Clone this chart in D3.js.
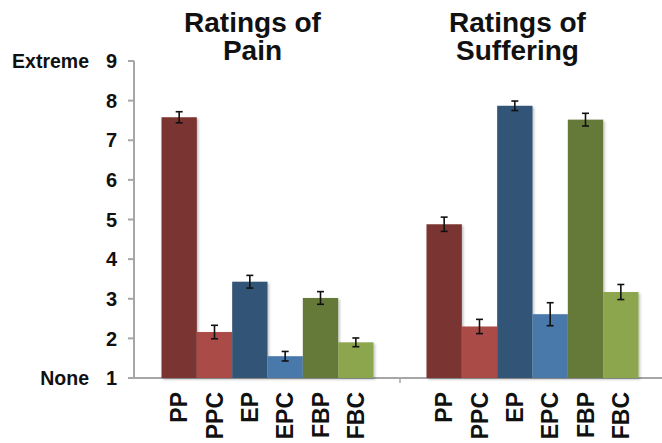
<!DOCTYPE html>
<html>
<head>
<meta charset="utf-8">
<script src="https://cdn.jsdelivr.net/npm/d3@7"></script>
<style>
  body { margin: 0; background: #fff; }
  text { font-family: "Liberation Sans", Arial, sans-serif; font-weight: bold; fill: #111; }
</style>
</head>
<body>
<div id="chart"></div>
<script>
// data
const groups = ["Ratings of Pain", "Ratings of Suffering"];
const titleLines = [["Ratings of", "Pain"], ["Ratings of", "Suffering"]];
const conditions = ["PP", "PPC", "EP", "EPC", "FBP", "FBC"];
const painMeans = [7.58, 2.16, 3.43, 1.55, 3.02, 1.90];
const painErr = [0.14, 0.17, 0.16, 0.12, 0.16, 0.11];
const sufferingMeans = [4.88, 2.30, 7.87, 2.61, 7.52, 3.17];
const sufferingErr = [0.18, 0.18, 0.12, 0.29, 0.16, 0.19];
const yTicks = [1, 2, 3, 4, 5, 6, 7, 8, 9];
const yEndLabels = [{v: 9, t: "Extreme"}, {v: 1, t: "None"}];

const colors = ["#7a3430", "#aa4b47", "#335577", "#4978aa", "#657a38", "#8ca64e"];

const W = 662, H = 443;
const svg = d3.select("#chart").append("svg")
  .attr("width", W).attr("height", H);

// soft shadow like the original bars
const defs = svg.append("defs");
const f = defs.append("filter").attr("id", "shadow")
  .attr("x", "-10%").attr("y", "-10%").attr("width", "130%").attr("height", "130%");
f.append("feDropShadow").attr("dx", 1.5).attr("dy", 1.5)
  .attr("stdDeviation", 1.2).attr("flood-color", "#000").attr("flood-opacity", 0.25);

const y = d3.scaleLinear().domain([1, 9]).range([378, 61]);
const x0 = d3.scaleBand().domain(groups).range([135, 665])
  .paddingInner(0.2).paddingOuter(0.1);
const x1 = d3.scaleBand().domain(conditions).range([0, x0.bandwidth()]);

const rows = [];
groups.forEach(function(g, gi) {
  const means = gi === 0 ? painMeans : sufferingMeans;
  const errs = gi === 0 ? painErr : sufferingErr;
  conditions.forEach(function(c, ci) {
    rows.push({group: g, cond: c, mean: means[ci], err: errs[ci], color: colors[ci]});
  });
});

// axes lines
const axisColor = "#a6a6a6";
svg.append("line")
  .attr("x1", 134).attr("x2", 134).attr("y1", y(9)).attr("y2", y(1))
  .attr("stroke", axisColor).attr("stroke-width", 2);
svg.append("line")
  .attr("x1", 128).attr("x2", W).attr("y1", y(1)).attr("y2", y(1))
  .attr("stroke", axisColor).attr("stroke-width", 2);

// y ticks
svg.selectAll(".ytick").data(yTicks).join("line")
  .attr("x1", 128).attr("x2", 134)
  .attr("y1", d => y(d)).attr("y2", d => y(d))
  .attr("stroke", axisColor).attr("stroke-width", 2);
svg.selectAll(".ylab").data(yTicks).join("text")
  .attr("x", 117).attr("y", d => y(d))
  .attr("dy", "0.36em")
  .attr("text-anchor", "end")
  .style("font-size", "20px")
  .text(d => d);
svg.selectAll(".yend").data(yEndLabels).join("text")
  .attr("x", 89).attr("y", d => y(d.v))
  .attr("dy", "0.36em")
  .attr("text-anchor", "end")
  .style("font-size", "19.5px")
  .text(d => d.t);

// group divider tick
svg.append("line")
  .attr("x1", x0.range()[0] + x0.step()).attr("x2", x0.range()[0] + x0.step())
  .attr("y1", y(1)).attr("y2", y(1) + 5)
  .attr("stroke", axisColor).attr("stroke-width", 1.5);

// bars
svg.selectAll(".bar").data(rows).join("rect")
  .attr("x", d => x0(d.group) + x1(d.cond))
  .attr("width", x1.bandwidth())
  .attr("y", d => y(d.mean))
  .attr("height", d => y(1) - y(d.mean))
  .attr("fill", d => d.color)
  .attr("filter", "url(#shadow)");

// error bars
const cx = d => x0(d.group) + x1(d.cond) + x1.bandwidth() / 2;
const eb = svg.selectAll(".err").data(rows).join("g")
  .attr("stroke", "#111").attr("stroke-width", 1.6);
eb.append("line")
  .attr("x1", cx).attr("x2", cx)
  .attr("y1", d => y(d.mean + d.err)).attr("y2", d => y(d.mean - d.err));
eb.append("line")
  .attr("x1", d => cx(d) - 3.5).attr("x2", d => cx(d) + 3.5)
  .attr("y1", d => y(d.mean + d.err)).attr("y2", d => y(d.mean + d.err));
eb.append("line")
  .attr("x1", d => cx(d) - 3.5).attr("x2", d => cx(d) + 3.5)
  .attr("y1", d => y(d.mean - d.err)).attr("y2", d => y(d.mean - d.err));

// x labels, rotated
svg.selectAll(".xlab").data(rows).join("text")
  .attr("transform", d => `translate(${cx(d)},392) rotate(-90)`)
  .attr("dy", "0.36em")
  .attr("text-anchor", "end")
  .style("font-size", "23px")
  .text(d => d.cond);

// titles
groups.forEach(function(g, gi) {
  const tx = x0(g) + x0.bandwidth() / 2 - 15;
  titleLines[gi].forEach(function(line, li) {
    svg.append("text")
      .attr("x", tx).attr("y", 32 + li * 28)
      .attr("text-anchor", "middle")
      .style("font-size", "28px")
      .text(line);
  });
});
</script>
</body>
</html>
